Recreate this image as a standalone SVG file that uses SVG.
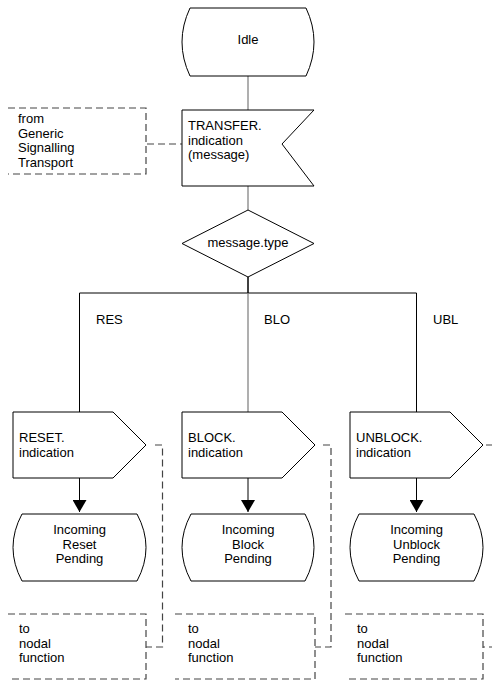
<svg xmlns="http://www.w3.org/2000/svg" width="492" height="682" viewBox="0 0 492 682">
<defs>
<style>
.shape{fill:#fff;stroke:#000;stroke-width:1}
.line{fill:none;stroke:#000;stroke-width:1}
.grey{fill:none;stroke:#7a7a7a;stroke-width:1.2}
.dash{fill:none;stroke:#444;stroke-width:1.2;stroke-dasharray:7,4}
text{font-family:"Liberation Sans",Arial,sans-serif;font-size:13px;fill:#000}
.c{text-anchor:middle}
</style>
<marker id="arr" viewBox="0 0 12 14" refX="12" refY="7" markerWidth="12" markerHeight="14" markerUnits="userSpaceOnUse" orient="auto">
<path d="M0,0 L12,7 L0,14 Z" fill="#000"/>
</marker>
</defs>
<rect width="492" height="682" fill="#fff"/>

<g id="connectors">
<line class="grey" x1="248" y1="76" x2="248" y2="110"/>
<line class="grey" x1="248" y1="186" x2="248" y2="210"/>
<line class="line" x1="248" y1="277" x2="248" y2="293" style="stroke-width:1.5"/>
<line class="line" x1="79.5" y1="293" x2="416.5" y2="293"/>
<line class="line" x1="79.5" y1="293" x2="79.5" y2="412"/>
<line class="grey" x1="248" y1="293" x2="248" y2="412"/>
<line class="line" x1="416.5" y1="293" x2="416.5" y2="412"/>
<line class="line" x1="79.5" y1="478" x2="79.5" y2="512" marker-end="url(#arr)"/>
<line class="line" x1="248" y1="478" x2="248" y2="512" marker-end="url(#arr)"/>
<line class="line" x1="416.5" y1="478" x2="416.5" y2="512" marker-end="url(#arr)"/>
<line class="dash" x1="147" y1="144" x2="182" y2="144"/>
<polyline class="dash" points="155,445 162.5,445 162.5,647 146,647"/>
<polyline class="dash" points="323,445 331,445 331,647 315,647"/>
<polyline class="dash" points="486,445 500,445 500,647 483,647"/>
</g>

<g id="idle">
<path class="shape" d="M190,8 H306 Q322,42 306,76 H190 Q174,42 190,8 Z"/>
<text class="c" x="248" y="44">Idle</text>
</g>

<g id="transfer">
<path class="shape" d="M182,110 H314 L282,144 L314,186 H182 Z"/>
<text x="188" y="130">TRANSFER.</text>
<text x="188" y="144.5">indication</text>
<text x="188" y="159">(message)</text>
</g>

<g id="from-gst">
<path class="dash" d="M8,108 H146 V174 H8"/>
<text x="18" y="123">from</text>
<text x="18" y="137.5">Generic</text>
<text x="18" y="152">Signalling</text>
<text x="18" y="166.5">Transport</text>
</g>

<g id="decision">
<path class="shape" d="M248,210 L314,243.5 L248,277 L182,243.5 Z"/>
<text class="c" x="248" y="247">message.type</text>
</g>

<g id="labels">
<text x="96" y="324">RES</text>
<text x="264" y="324">BLO</text>
<text x="433" y="324">UBL</text>
</g>

<g id="reset-ind">
<path class="shape" d="M13,412 H113 L146,445 L113,478 H13 Z"/>
<text x="19" y="442">RESET.</text>
<text x="19" y="456.5">indication</text>
</g>
<g id="block-ind">
<path class="shape" d="M182,412 H282 L315,445 L282,478 H182 Z"/>
<text x="188" y="442">BLOCK.</text>
<text x="188" y="456.5">indication</text>
</g>
<g id="unblock-ind">
<path class="shape" d="M350,412 H450 L483,445 L450,478 H350 Z"/>
<text x="356" y="442">UNBLOCK.</text>
<text x="356" y="456.5">indication</text>
</g>

<g id="reset-pending">
<path class="shape" d="M22,514 H137 Q155,547.5 137,581 H22 Q4,547.5 22,514 Z"/>
<text class="c" x="79.5" y="534">Incoming</text>
<text class="c" x="79.5" y="548.5">Reset</text>
<text class="c" x="79.5" y="563">Pending</text>
</g>
<g id="block-pending">
<path class="shape" d="M191,514 H305 Q323,547.5 305,581 H191 Q173,547.5 191,514 Z"/>
<text class="c" x="248" y="534">Incoming</text>
<text class="c" x="248" y="548.5">Block</text>
<text class="c" x="248" y="563">Pending</text>
</g>
<g id="unblock-pending">
<path class="shape" d="M359,514 H474 Q492,547.5 474,581 H359 Q341,547.5 359,514 Z"/>
<text class="c" x="416.5" y="534">Incoming</text>
<text class="c" x="416.5" y="548.5">Unblock</text>
<text class="c" x="416.5" y="563">Pending</text>
</g>

<g id="nodal-1">
<path class="dash" d="M8,614 H146 V679 H8"/>
<text x="19" y="633">to</text>
<text x="19" y="647.5">nodal</text>
<text x="19" y="662">function</text>
</g>
<g id="nodal-2">
<path class="dash" d="M175,614 H315 V679 H175"/>
<text x="188" y="633">to</text>
<text x="188" y="647.5">nodal</text>
<text x="188" y="662">function</text>
</g>
<g id="nodal-3">
<path class="dash" d="M345,614 H483 V679 H345"/>
<text x="357" y="633">to</text>
<text x="357" y="647.5">nodal</text>
<text x="357" y="662">function</text>
</g>
</svg>
